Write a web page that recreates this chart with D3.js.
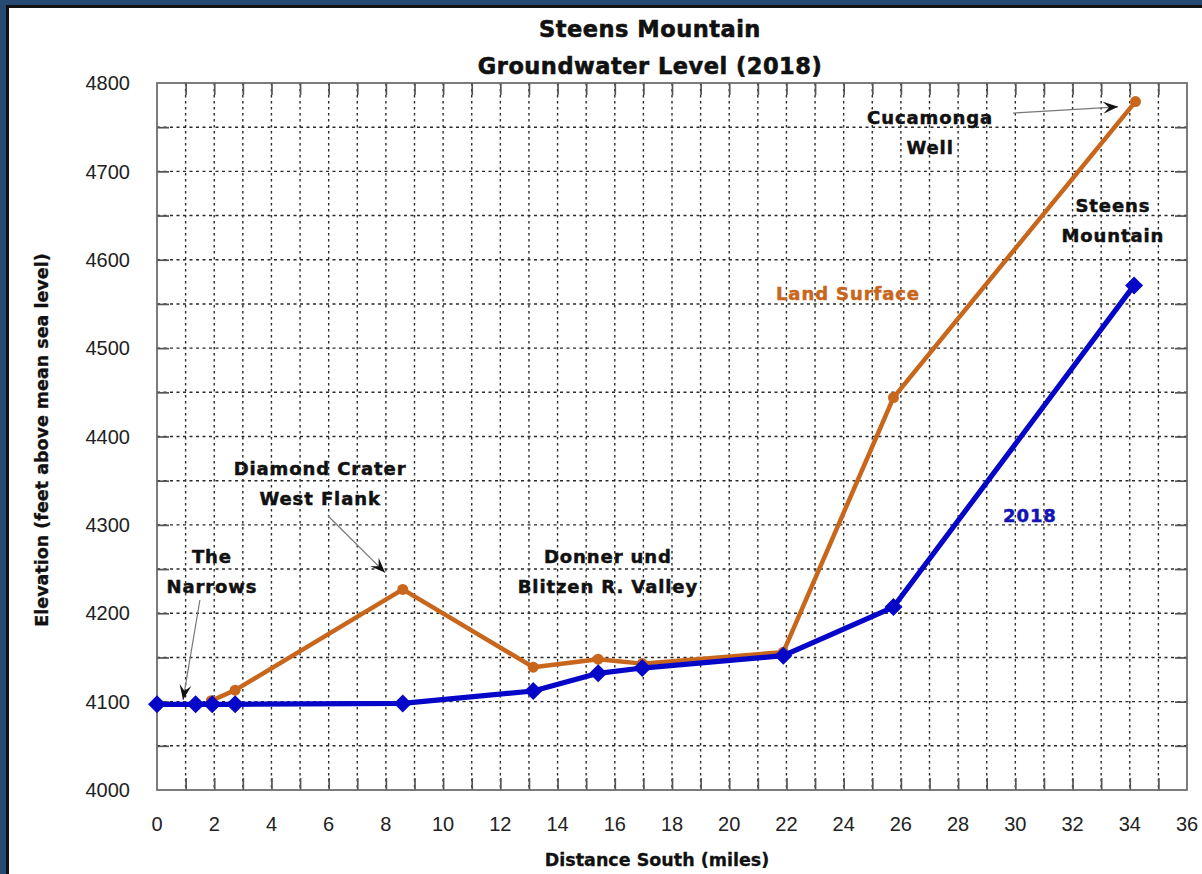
<!DOCTYPE html>
<html>
<head>
<meta charset="utf-8">
<script src="https://cdn.jsdelivr.net/npm/d3@7"></script>
<style>
  html, body { margin: 0; padding: 0; background: #ffffff; }
  svg { display: block; }
</style>
</head>
<body>
<svg id="chart" width="1202" height="874"></svg>
<script>
// ---- Data ----
const titleLines = ["Steens Mountain", "Groundwater Level (2018)"];
const xLabel = "Distance South (miles)";
const yLabel = "Elevation (feet above mean sea level)";

const xTickLabels = [0, 2, 4, 6, 8, 10, 12, 14, 16, 18, 20, 22, 24, 26, 28, 30, 32, 34, 36];
const yTickLabels = [4000, 4100, 4200, 4300, 4400, 4500, 4600, 4700, 4800];

// Groundwater level 2018 (blue diamonds)
const distGW = [0, 1.35, 1.93, 2.73, 8.59, 13.15, 15.42, 16.96, 21.89, 25.74, 34.15];
const gw2018 = [4097, 4097, 4097, 4097, 4098, 4112, 4132, 4138, 4152, 4207, 4571];

// Land surface (orange circles)
const distLand = [1.9, 2.73, 8.59, 13.15, 15.42, 16.96, 21.89, 25.74, 34.2];
const landSurface = [4101, 4113, 4227, 4139, 4148, 4143, 4156, 4444, 4779];

// Annotation labels (data coordinates of first-line baseline centre)
const annotations = [
  { lines: ["The", "Narrows"], x: 1.92, y: 4257, color: "#111" },
  { lines: ["Diamond Crater", "West Flank"], x: 5.70, y: 4356, color: "#111" },
  { lines: ["Donner und", "Blitzen R. Valley"], x: 15.76, y: 4257, color: "#111" },
  { lines: ["Cucamonga", "Well"], x: 27.02, y: 4754, color: "#111" },
  { lines: ["Steens", "Mountain"], x: 33.41, y: 4654, color: "#111" },
  { lines: ["Land Surface"], x: 24.15, y: 4554, color: "#c8661c" },
  { lines: ["2018"], x: 30.51, y: 4303, color: "#1414b4" }
];

// Arrows (from -> to, data coordinates)
const arrows = [
  { x1: 1.50, y1: 4215, x2: 0.91, y2: 4102 },
  { x1: 5.98, y1: 4310, x2: 7.97, y2: 4246 },
  { x1: 29.92, y1: 4766, x2: 33.59, y2: 4773 }
];

// ---- Layout ----
const W = 1202, H = 874;
const plot = { left: 157, top: 83, right: 1187, bottom: 790 };
const svg = d3.select("#chart");

// Frame
svg.append("rect").attr("x", 0).attr("y", 0).attr("width", W).attr("height", H).attr("fill", "#264a72");
svg.append("rect").attr("x", 6).attr("y", 5).attr("width", W - 6).attr("height", H - 5).attr("fill", "#111");
svg.append("rect").attr("x", 9).attr("y", 8).attr("width", W - 9).attr("height", H - 8).attr("fill", "#ffffff");

const x = d3.scaleLinear().domain([0, 36]).range([plot.left, plot.right]);
const y = d3.scaleLinear().domain([4000, 4800]).range([plot.bottom, plot.top]);

const g = svg.append("g");

// Grid lines
const xGrid = d3.range(1, 36);
const yGrid = d3.range(4050, 4800, 50);
g.selectAll(".vgrid").data(xGrid).join("line")
  .attr("x1", d => x(d)).attr("x2", d => x(d))
  .attr("y1", plot.top).attr("y2", plot.bottom)
  .attr("stroke", "#2a2a2a").attr("stroke-width", 1.4).attr("stroke-dasharray", "2.5,3.5");
g.selectAll(".hgrid").data(yGrid).join("line")
  .attr("y1", d => y(d)).attr("y2", d => y(d))
  .attr("x1", plot.left).attr("x2", plot.right)
  .attr("stroke", "#2a2a2a").attr("stroke-width", 1.4).attr("stroke-dasharray", "3,3.5");

// Axes (inside ticks, no labels) via d3 axis
const tickLen = 12;
const axB = d3.axisBottom(x).tickValues(xGrid).tickSize(-tickLen).tickFormat("");
const axT = d3.axisTop(x).tickValues(xGrid).tickSize(-tickLen).tickFormat("");
const axL = d3.axisLeft(y).tickValues(yGrid).tickSize(-tickLen).tickFormat("");
const axR = d3.axisRight(y).tickValues(yGrid).tickSize(-tickLen).tickFormat("");
[[axB, `translate(0,${plot.bottom})`], [axT, `translate(0,${plot.top})`],
 [axL, `translate(${plot.left},0)`], [axR, `translate(${plot.right},0)`]].forEach(([ax, tr]) => {
  const a = g.append("g").attr("transform", tr).call(ax);
  a.select(".domain").remove();
  a.selectAll("line").attr("stroke", "#555").attr("stroke-width", 1.7);
});

// Plot border
g.append("rect").attr("x", plot.left).attr("y", plot.top)
  .attr("width", plot.right - plot.left).attr("height", plot.bottom - plot.top)
  .attr("fill", "none").attr("stroke", "#666").attr("stroke-width", 1.7);

// Tick labels
const tickFont = "'Liberation Sans', Arial, sans-serif";
const boldFont = "'DejaVu Sans', 'Liberation Sans', Arial, sans-serif";
g.selectAll(".xtl").data(xTickLabels).join("text")
  .attr("x", d => x(d)).attr("y", 831)
  .attr("text-anchor", "middle").attr("font-family", tickFont).attr("font-size", 20)
  .attr("fill", "#222").text(d => d);
g.selectAll(".ytl").data(yTickLabels).join("text")
  .attr("x", 130).attr("y", d => y(d)).attr("dy", "0.36em")
  .attr("text-anchor", "end").attr("font-family", tickFont).attr("font-size", 20)
  .attr("fill", "#222").text(d => d);

// Title
svg.selectAll(".title").data(titleLines).join("text")
  .attr("x", 650).attr("y", (d, i) => i === 0 ? 37 : 74)
  .attr("text-anchor", "middle").attr("font-family", boldFont).attr("font-weight", "bold")
  .attr("font-size", 22.5).attr("letter-spacing", "0.5px")
  .attr("fill", "#111").attr("stroke", "#111").attr("stroke-width", 0.6).text(d => d);

// Axis labels
svg.append("text").attr("x", 657).attr("y", 866)
  .attr("text-anchor", "middle").attr("font-family", boldFont).attr("font-weight", "bold")
  .attr("font-size", 17.5).attr("fill", "#111").attr("stroke", "#111").attr("stroke-width", 0.3).text(xLabel);
svg.append("text").attr("transform", "translate(48,440) rotate(-90)")
  .attr("text-anchor", "middle").attr("font-family", boldFont).attr("font-weight", "bold")
  .attr("font-size", 17.5).attr("fill", "#111").attr("stroke", "#111").attr("stroke-width", 0.3).text(yLabel);

// Arrows
const defs = svg.append("defs");
defs.append("marker").attr("id", "ah").attr("viewBox", "-15 -7 16 14")
  .attr("refX", 0).attr("refY", 0).attr("markerWidth", 16).attr("markerHeight", 14)
  .attr("markerUnits", "userSpaceOnUse").attr("orient", "auto")
  .append("path").attr("d", "M0,0 L-15,-6 L-9,0 L-15,6 Z").attr("fill", "#111");
g.selectAll(".arrow").data(arrows).join("line")
  .attr("x1", d => x(d.x1)).attr("y1", d => y(d.y1))
  .attr("x2", d => x(d.x2)).attr("y2", d => y(d.y2))
  .attr("stroke", "#777").attr("stroke-width", 1.2).attr("marker-end", "url(#ah)");

// Lines
const line = d3.line().x(d => x(d[0])).y(d => y(d[1]));
const landPts = distLand.map((d, i) => [d, landSurface[i]]);
const gwPts = distGW.map((d, i) => [d, gw2018[i]]);

g.append("path").datum(landPts).attr("d", line)
  .attr("fill", "none").attr("stroke", "#c8661c").attr("stroke-width", 4.5).attr("stroke-linejoin", "round");
g.selectAll(".landpt").data(landPts).join("circle")
  .attr("cx", d => x(d[0])).attr("cy", d => y(d[1])).attr("r", 5.5).attr("fill", "#c8661c");

g.append("path").datum(gwPts).attr("d", line)
  .attr("fill", "none").attr("stroke", "#0606c8").attr("stroke-width", 5.2).attr("stroke-linejoin", "round");
const dR = 9;
g.selectAll(".gwpt").data(gwPts).join("path")
  .attr("transform", d => `translate(${x(d[0])},${y(d[1])})`)
  .attr("d", `M0,${-dR}L${dR},0L0,${dR}L${-dR},0Z`).attr("fill", "#0606c8");

// Annotations
annotations.forEach(a => {
  a.lines.forEach((t, i) => {
    g.append("text").attr("x", x(a.x)).attr("y", y(a.y) + i * 30)
      .attr("text-anchor", "middle").attr("font-family", boldFont).attr("font-weight", "bold")
      .attr("font-size", 18).attr("letter-spacing", "0.9px")
      .attr("fill", a.color).attr("stroke", a.color).attr("stroke-width", 0.5).text(t);
  });
});
</script>
</body>
</html>
